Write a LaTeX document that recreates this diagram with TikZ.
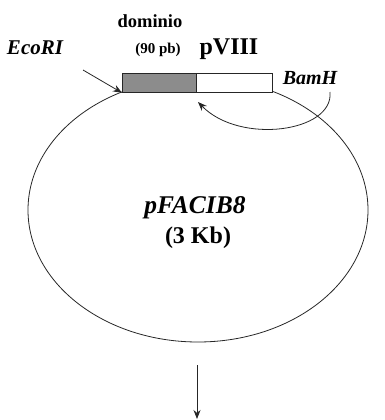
\documentclass[tikz,border=0pt]{standalone}
\usepackage{fontspec}
\setmainfont{Liberation Serif}
\usetikzlibrary{arrows.meta}
\tikzset{
  lbl/.style={inner sep=0pt, font=\bfseries},
  ilbl/.style={inner sep=0pt, font=\bfseries\itshape},
  line/.style={line width=0.8pt, black!85},
  tip/.style={-{Stealth[length=9pt,width=7pt]}}
}
\newcommand{\fs}[1]{\fontsize{#1}{#1}\selectfont}
\begin{document}
\begin{tikzpicture}[x=1pt,y=-1pt]
  \useasboundingbox (0,0) rectangle (384,420);
  % plasmid circle
  \draw[line] (198,210) ellipse [x radius=170, y radius=132];
  % insert: domain (grey) and pVIII (white)
  \node[draw, line, fill=black!45, minimum width=74pt, minimum height=19pt, inner sep=0pt, anchor=north west] (dom) at (122,73) {};
  \node[draw, line, fill=white, minimum width=76pt, minimum height=19pt, inner sep=0pt, anchor=north west] (p8) at (196,73) {};
  % labels
  \node[lbl] (tdom) at (150,21) {\fs{18.5}dominio};
  \node[lbl] (tbp) at (158,50) {\fs{15}(90 pb)};
  \node[lbl] (tp8) at (229,49) {\fs{24}pVIII};
  \node[ilbl] (teco) at (35,48) {\fs{21}EcoRI};
  \node[ilbl] (tbam) at (310,78) {\fs{20}BamH};
  \node[ilbl] (tname) at (195,208) {\fs{25.5}pFACIB8};
  \node[lbl] (tsize) at (198,238) {\fs{24}(3 Kb)};
  % restriction site arrows
  \coordinate (ecoS) at (83,70);
  \draw[line, tip] (ecoS) -- (dom.south west);
  \coordinate (bamS) at (330,92);
  \coordinate (bamE) at (198,102);
  \draw[line, tip] (bamS) .. controls (334,132) and (240,145) .. (bamE);
  % downward arrow
  \coordinate (dnS) at (197,365);
  \coordinate (dnE) at (197,419);
  \draw[line, tip] (dnS) -- (dnE);
\end{tikzpicture}
\end{document}
